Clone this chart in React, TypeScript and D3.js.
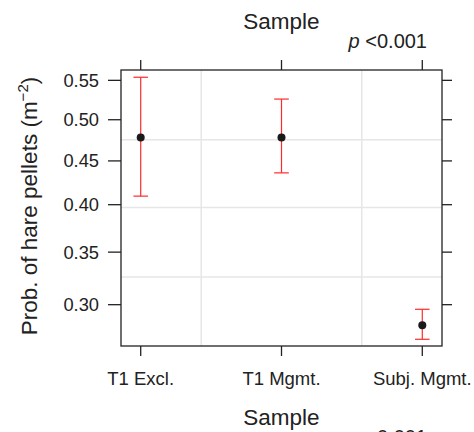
import React from "react";
import * as d3 from "d3";

const categories = ["T1 Excl.", "T1 Mgmt.", "Subj. Mgmt."];
const estimates = [0.478, 0.478, 0.282];
const lower = [0.4095, 0.436, 0.2702];
const upper = [0.554, 0.526, 0.2959];
const yTicks = [0.3, 0.35, 0.4, 0.45, 0.5, 0.55];
const hGrid = [0.4754, 0.397, 0.3257];
const vGrid = [1.43, 2.57];
const yDomain = [0.2647, 0.5634];
const xDomain = [0.86, 3.14];

const cloglog = (p: number) => Math.log(-Math.log(1 - p));

const W = 474;
const H = 432;
const L = 121, R = 442, T = 70, B = 346;
const FONT = "'Liberation Sans', Arial, Helvetica, sans-serif";
const TXT = "#222";

export default function App() {
  const x = d3.scaleLinear().domain(xDomain).range([L, R]);
  const yl = d3.scaleLinear().domain(yDomain.map(cloglog)).range([B, T]);
  const y = (p: number) => yl(cloglog(p));
  const capW = 7.3;

  return (
    <svg
      width={W}
      height={H}
      style={{ position: "absolute", left: 0, top: 0, background: "#fff" }}
      fontFamily={FONT}
    >
      <rect x={0} y={0} width={W} height={H} fill="#fff" />
      {/* grid */}
      {hGrid.map((g, i) => (
        <line key={"h" + i} x1={L} x2={R} y1={y(g)} y2={y(g)} stroke="#e6e6e6" strokeWidth={1.5} />
      ))}
      {vGrid.map((g, i) => (
        <line key={"v" + i} x1={x(g)} x2={x(g)} y1={T} y2={B} stroke="#e6e6e6" strokeWidth={1.5} />
      ))}
      {/* error bars */}
      {categories.map((c, i) => {
        const cx = x(i + 1);
        return (
          <g key={"e" + i} stroke="#ff2a2a" strokeWidth={1.2}>
            <line x1={cx} x2={cx} y1={y(upper[i])} y2={y(lower[i])} />
            <line x1={cx - capW} x2={cx + capW} y1={y(upper[i])} y2={y(upper[i])} />
            <line x1={cx - capW} x2={cx + capW} y1={y(lower[i])} y2={y(lower[i])} />
          </g>
        );
      })}
      {/* points */}
      {categories.map((c, i) => (
        <circle key={"p" + i} cx={x(i + 1)} cy={y(estimates[i])} r={4} fill="#1a1a1a" />
      ))}
      {/* panel border */}
      <rect x={L} y={T} width={R - L} height={B - T} fill="none" stroke="#222" strokeWidth={1.3} />
      {/* y ticks */}
      {yTicks.map((t, i) => (
        <g key={"yt" + i}>
          <line x1={L - 13} x2={L} y1={y(t)} y2={y(t)} stroke="#222" strokeWidth={1.3} />
          <line x1={R} x2={R + 10} y1={y(t)} y2={y(t)} stroke="#222" strokeWidth={1.3} />
          <text x={99} y={y(t)} dy="0.35em" textAnchor="end" fontSize={18.3} fill={TXT}>
            {t.toFixed(2)}
          </text>
        </g>
      ))}
      {/* x ticks */}
      {categories.map((c, i) => (
        <g key={"xt" + i}>
          <line x1={x(i + 1)} x2={x(i + 1)} y1={B} y2={B + 10} stroke="#222" strokeWidth={1.3} />
          <line x1={x(i + 1)} x2={x(i + 1)} y1={T - 10} y2={T} stroke="#222" strokeWidth={1.3} />
          <text x={x(i + 1)} y={385} textAnchor="middle" fontSize={18.5} fill={TXT}>
            {c}
          </text>
        </g>
      ))}
      {/* titles */}
      <text x={x(2)} y={29} textAnchor="middle" fontSize={22.5} fill={TXT}>Sample</text>
      <text x={427} y={48} textAnchor="end" fontSize={20} fill={TXT}>
        <tspan fontStyle="italic">p</tspan> {"<0.001"}
      </text>
      <text x={x(2)} y={425} textAnchor="middle" fontSize={22.5} fill={TXT}>Sample</text>
      <text x={427} y={444} textAnchor="end" fontSize={20} fill={TXT}>
        <tspan fontStyle="italic">p</tspan> {"<0.001"}
      </text>
      {/* y label */}
      <text
        transform={`translate(37, ${(T + B) / 2 - 2}) rotate(-90)`}
        textAnchor="middle"
        fontSize={22.5}
        fill={TXT}
      >
        Prob. of hare pellets (m
        <tspan fontSize={15} dy={-9}>−2</tspan>
        <tspan dy={9}>)</tspan>
      </text>
    </svg>
  );
}
